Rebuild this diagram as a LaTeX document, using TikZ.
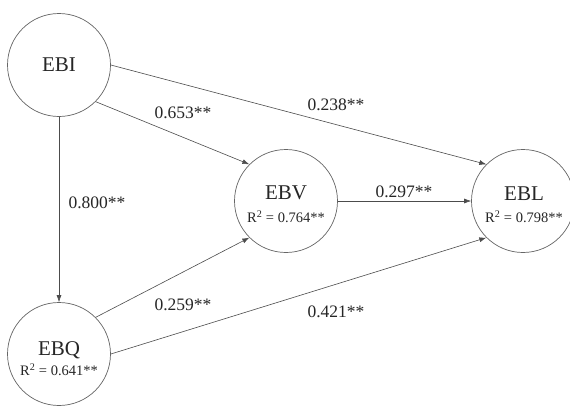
\documentclass[tikz,border=0pt]{standalone}
\usepackage{fontspec}
\setmainfont{Liberation Serif}
\usetikzlibrary{arrows.meta}
\begin{document}
\begin{tikzpicture}[x=1pt,y=-1pt,
  var/.style={circle, draw=black!60, line width=0.7pt, minimum size=103pt, inner sep=0pt},
  link/.style={draw=black!70, line width=0.6pt, -{Latex[length=7pt,width=5pt]}},
  coef/.style={font=\fontsize{17.5}{19}\selectfont, text=black!85, inner sep=0pt},
  nm/.style={font=\fontsize{21}{24}\selectfont, text=black!85, inner sep=0pt},
  rsq/.style={font=\fontsize{14.5}{16}\selectfont, text=black!85, inner sep=0pt}]
\clip (0,0) rectangle (570,407);
\useasboundingbox (0,0) rectangle (570,407);
\fill[white] (0,0) rectangle (570,407);
% variables
\node[var] (EBI) at (59,65) {};
\node[var] (EBV) at (286,201) {};
\node[var] (EBL) at (523,201) {};
\node[var] (EBQ) at (59,354) {};
% texts inside
\node[nm] (tEBI) at (59,65) {EBI};
\node[nm] (tEBV) at (286,193) {EBV};
\node[rsq] (rEBV) at (286,217) {R\textsuperscript{2} = 0.764**};
\node[nm] (tEBL) at (524,194) {EBL};
\node[rsq] (rEBL) at (524,217) {R\textsuperscript{2} = 0.798**};
\node[nm] (tEBQ) at (59,350) {EBQ};
\node[rsq] (rEBQ) at (59,370) {R\textsuperscript{2} = 0.641**};
% paths
\draw[link] (EBI.east) -- (EBL.north west);
\draw[link] (EBI.south east) -- (EBV.north west);
\draw[link] (EBI.south) -- (EBQ.north);
\draw[link] (EBV.east) -- (EBL.west);
\draw[link] (EBQ.north east) -- (EBV.south west);
\draw[link] (EBQ.east) -- (EBL.south west);
% coefficients
\node[coef] (c1) at (183,113) {0.653**};
\node[coef] (c2) at (336,105) {0.238**};
\node[coef] (c3) at (97,203) {0.800**};
\node[coef] (c4) at (404,192) {0.297**};
\node[coef] (c5) at (183,305) {0.259**};
\node[coef] (c6) at (336,312) {0.421**};
\end{tikzpicture}
\end{document}
